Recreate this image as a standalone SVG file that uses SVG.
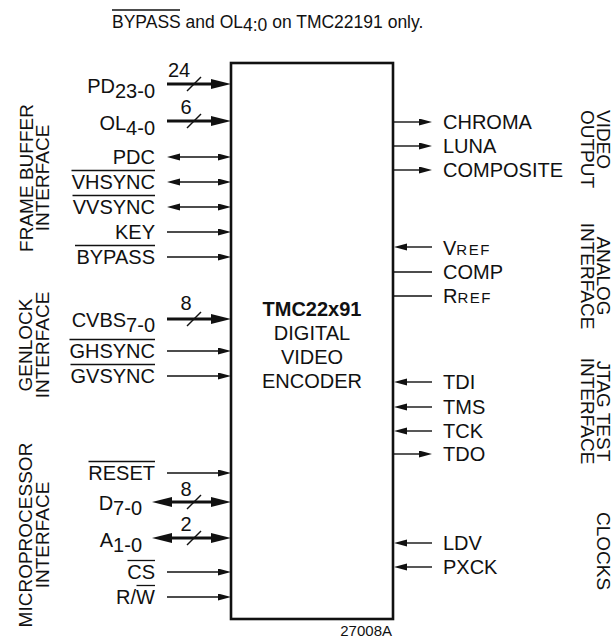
<svg xmlns="http://www.w3.org/2000/svg" width="616" height="638" viewBox="0 0 616 638">
<style>
text{font-family:"Liberation Sans",Arial,sans-serif;fill:#111}
.l{font-size:20px}
.le{font-size:20px;text-anchor:end}
.m{font-size:20px;text-anchor:middle}
.r{font-size:19px;text-anchor:middle}
.rs{font-size:19px;text-anchor:start}
.sc{font-size:15px;letter-spacing:1.5px}
.w{stroke:#111;stroke-width:1.4;fill:none}
.b{stroke:#111;stroke-width:2.8;fill:none}
.ov{stroke:#111;stroke-width:1.3}
.t{stroke:#111;stroke-width:1.4;fill:none}
.i{marker-end:url(#ah)}
.bd{marker-start:url(#ah);marker-end:url(#ah)}
.bi{marker-end:url(#bh)}
.bb{marker-start:url(#bh);marker-end:url(#bh)}
</style>
<defs>
<marker id="ah" markerUnits="userSpaceOnUse" markerWidth="14" markerHeight="8" refX="5" refY="3.5" orient="auto-start-reverse"><path d="M0,0 L13,3.5 L0,7 z" fill="#111"/></marker>
<marker id="bh" markerUnits="userSpaceOnUse" markerWidth="21" markerHeight="11" refX="10" refY="5" orient="auto-start-reverse"><path d="M0,0 L20,5 L0,10 z" fill="#111"/></marker>
</defs>
<rect width="616" height="638" fill="#fff"/>

<g id="caption">
<text x="112" y="28" style="font-size:17.5px">BYPASS and OL<tspan dy="3">4:0</tspan><tspan dy="-3"> on TMC22191 only.</tspan></text>
<line class="ov" x1="112" y1="10" x2="180" y2="10"/>
</g>

<g id="chip">
<rect x="231" y="63" width="162" height="556" fill="none" stroke="#111" stroke-width="2.6"/>
<text class="m" x="312" y="316" font-weight="bold">TMC22x91</text>
<text class="m" x="312" y="340">DIGITAL</text>
<text class="m" x="312" y="364">VIDEO</text>
<text class="m" x="312" y="388">ENCODER</text>
</g>
<g id="figno"><text x="392" y="636" style="font-size:15px;text-anchor:end">27008A</text></g>

<g id="connectors">
<line class="b bi" x1="167" y1="84" x2="221" y2="84"/>
<line class="t" x1="187" y1="91" x2="201" y2="77"/>
<line class="b bi" x1="167" y1="121" x2="221" y2="121"/>
<line class="t" x1="187" y1="128" x2="201" y2="114"/>
<line class="w bd" x1="175" y1="157" x2="223" y2="157"/>
<line class="w bd" x1="175" y1="182" x2="223" y2="182"/>
<line class="w bd" x1="175" y1="207" x2="223" y2="207"/>
<line class="w i" x1="167" y1="232" x2="223" y2="232"/>
<line class="w i" x1="167" y1="257" x2="223" y2="257"/>
<line class="b bi" x1="167" y1="319" x2="221" y2="319"/>
<line class="t" x1="187" y1="326" x2="201" y2="312"/>
<line class="w i" x1="167" y1="351" x2="223" y2="351"/>
<line class="w i" x1="167" y1="376" x2="223" y2="376"/>
<line class="w i" x1="167" y1="473" x2="223" y2="473"/>
<line class="b bb" x1="162" y1="502" x2="221" y2="502"/>
<line class="t" x1="187" y1="509" x2="201" y2="495"/>
<line class="b bb" x1="162" y1="538" x2="221" y2="538"/>
<line class="t" x1="187" y1="545" x2="201" y2="531"/>
<line class="w i" x1="167" y1="572" x2="223" y2="572"/>
<line class="w i" x1="167" y1="597" x2="223" y2="597"/>

<line class="w i" x1="393" y1="122" x2="424" y2="122"/>
<line class="w i" x1="393" y1="146" x2="424" y2="146"/>
<line class="w i" x1="393" y1="170" x2="424" y2="170"/>
<line class="w i" x1="432" y1="247" x2="402" y2="247"/>
<line class="w" x1="393" y1="272" x2="432" y2="272"/>
<line class="w" x1="393" y1="296" x2="432" y2="296"/>
<line class="w i" x1="432" y1="382" x2="402" y2="382"/>
<line class="w i" x1="432" y1="407" x2="402" y2="407"/>
<line class="w i" x1="432" y1="431" x2="402" y2="431"/>
<line class="w i" x1="393" y1="454" x2="424" y2="454"/>
<line class="w i" x1="432" y1="543" x2="402" y2="543"/>
<line class="w i" x1="432" y1="567" x2="402" y2="567"/>
</g>

<g id="pin-pd"><text class="le" x="155" y="92.5">PD<tspan dy="5.5">23-0</tspan></text><text class="m" x="179" y="77">24</text></g>
<g id="pin-ol"><text class="le" x="155" y="129.5">OL<tspan dy="5.5">4-0</tspan></text><text class="m" x="186" y="113.5">6</text></g>
<g id="pin-pdc"><text class="le" x="155" y="164">PDC</text></g>
<g id="pin-vhsync"><text class="le" x="155" y="189">VHSYNC</text><line class="ov" x1="71.5" y1="170.5" x2="155" y2="170.5"/></g>
<g id="pin-vvsync"><text class="le" x="155" y="214">VVSYNC</text><line class="ov" x1="72.5" y1="195.5" x2="155" y2="195.5"/></g>
<g id="pin-key"><text class="le" x="155" y="239">KEY</text></g>
<g id="pin-bypass"><text class="le" x="155" y="264">BYPASS</text><line class="ov" x1="75" y1="245.5" x2="155" y2="245.5"/></g>
<g id="pin-cvbs"><text class="le" x="155" y="327">CVBS<tspan dy="5">7-0</tspan></text><text class="m" x="186" y="309.5">8</text></g>
<g id="pin-ghsync"><text class="le" x="155" y="358">GHSYNC</text><line class="ov" x1="69.5" y1="339.5" x2="155" y2="339.5"/></g>
<g id="pin-gvsync"><text class="le" x="155" y="383">GVSYNC</text><line class="ov" x1="70.5" y1="364.5" x2="155" y2="364.5"/></g>
<g id="pin-reset"><text class="le" x="155" y="480">RESET</text><line class="ov" x1="88.5" y1="461.5" x2="155" y2="461.5"/></g>
<g id="pin-d"><text class="le" x="142" y="510">D<tspan dy="5">7-0</tspan></text><text class="m" x="186" y="496">8</text></g>
<g id="pin-a"><text class="le" x="142" y="546.5">A<tspan dy="5.5">1-0</tspan></text><text class="m" x="186" y="531">2</text></g>
<g id="pin-cs"><text class="le" x="155" y="579">CS</text><line class="ov" x1="127.5" y1="560.5" x2="155" y2="560.5"/></g>
<g id="pin-rw"><text class="le" x="155" y="604">R/W</text><line class="ov" x1="136.5" y1="585.5" x2="155" y2="585.5"/></g>

<g id="pin-chroma"><text class="l" x="443" y="128.5">CHROMA</text></g>
<g id="pin-luna"><text class="l" x="443" y="152.5">LUNA</text></g>
<g id="pin-composite"><text class="l" x="443" y="176.5">COMPOSITE</text></g>
<g id="pin-vref"><text class="l" x="443" y="254.5">V<tspan class="sc">REF</tspan></text></g>
<g id="pin-comp"><text class="l" x="443" y="278.5">COMP</text></g>
<g id="pin-rref"><text class="l" x="443" y="303">R<tspan class="sc">REF</tspan></text></g>
<g id="pin-tdi"><text class="l" x="443" y="389">TDI</text></g>
<g id="pin-tms"><text class="l" x="443" y="413.5">TMS</text></g>
<g id="pin-tck"><text class="l" x="443" y="437.5">TCK</text></g>
<g id="pin-tdo"><text class="l" x="443" y="460.5">TDO</text></g>
<g id="pin-ldv"><text class="l" x="443" y="549.5">LDV</text></g>
<g id="pin-pxck"><text class="l" x="443" y="573.5">PXCK</text></g>

<g id="grp-framebuffer">
<text class="r" x="33" y="178" transform="rotate(-90 33 178)">FRAME BUFFER</text>
<text class="r" x="49" y="178" transform="rotate(-90 49 178)">INTERFACE</text>
</g>
<g id="grp-genlock">
<text class="r" x="32" y="345" transform="rotate(-90 32 345)">GENLOCK</text>
<text class="r" x="49" y="345" transform="rotate(-90 49 345)">INTERFACE</text>
</g>
<g id="grp-micro">
<text class="r" x="32" y="535" transform="rotate(-90 32 535)">MICROPROCESSOR</text>
<text class="r" x="49" y="535" transform="rotate(-90 49 535)">INTERFACE</text>
</g>
<g id="grp-video">
<text class="rs" x="597" y="110" transform="rotate(90 597 110)">VIDEO</text>
<text class="rs" x="581" y="110" transform="rotate(90 581 110)">OUTPUT</text>
</g>
<g id="grp-analog">
<text class="r" x="597" y="276" transform="rotate(90 597 276)">ANALOG</text>
<text class="r" x="581" y="276" transform="rotate(90 581 276)">INTERFACE</text>
</g>
<g id="grp-jtag">
<text class="r" x="597" y="411" transform="rotate(90 597 411)">JTAG TEST</text>
<text class="r" x="581" y="411" transform="rotate(90 581 411)">INTERFACE</text>
</g>
<g id="grp-clocks">
<text class="r" x="597" y="551" transform="rotate(90 597 551)">CLOCKS</text>
</g>
</svg>
